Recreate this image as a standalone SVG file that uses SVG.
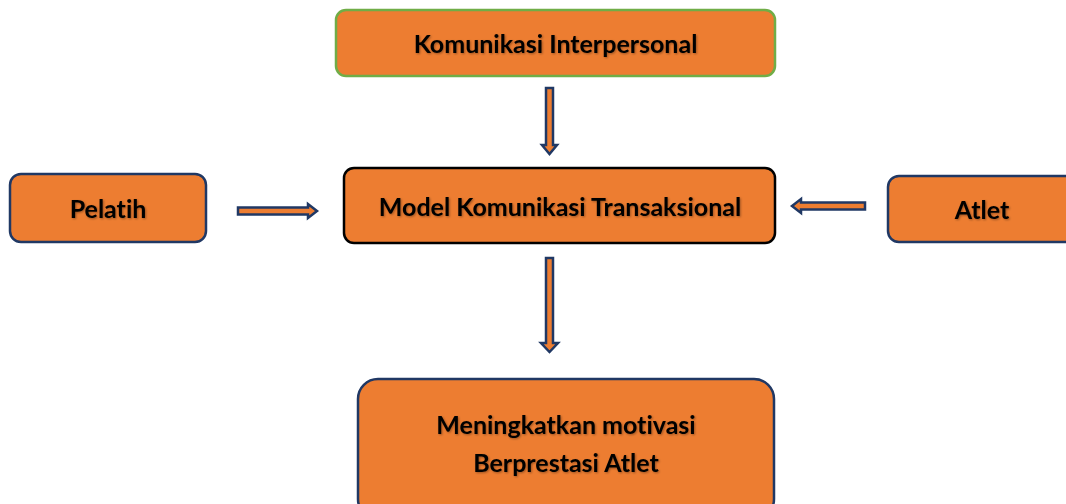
<svg xmlns="http://www.w3.org/2000/svg" width="1066" height="504" viewBox="0 0 1066 504">
<defs>
<filter id="sh" x="-10%" y="-30%" width="120%" height="160%">
<feDropShadow dx="1" dy="1" stdDeviation="0.8" flood-color="#000" flood-opacity="0.35"/>
</filter>
</defs>
<style>
.box{fill:#ed7d31;stroke-width:2.5}
.t{font-family:Lato,"Open Sans","Liberation Sans",sans-serif;font-weight:bold;font-size:25px;fill:#000;text-anchor:middle;filter:url(#sh);font-variant-ligatures:none}
.arr{fill:#ed7d31;stroke:#203864;stroke-width:2.5;stroke-linejoin:miter}
</style>
<rect width="1066" height="504" fill="#fff"/>
<g id="komunikasi-interpersonal">
<rect class="box" x="336" y="10" width="439" height="66" rx="10" stroke="#70ad47"/>
<text class="t" x="555.5" y="53">Komunikasi Interpersonal</text>
</g>
<g id="model-komunikasi">
<rect class="box" x="344" y="168" width="431" height="75" rx="10" stroke="#000"/>
<text class="t" x="560" y="216">Model Komunikasi Transaksional</text>
</g>
<g id="pelatih">
<rect class="box" x="10" y="174" width="196" height="68" rx="11" stroke="#203864"/>
<text class="t" x="108" y="218">Pelatih</text>
</g>
<g id="atlet">
<rect class="box" x="888" y="176" width="190" height="66" rx="11" stroke="#203864"/>
<text class="t" x="982" y="219">Atlet</text>
</g>
<g id="meningkatkan">
<rect class="box" x="358" y="379" width="416" height="140" rx="20" stroke="#203864"/>
<text class="t" x="566" y="434">Meningkatkan motivasi</text>
<text class="t" x="566" y="472">Berprestasi Atlet</text>
</g>
<g id="connectors">
<polygon class="arr" points="546,88 553,88 553,145 557,145 549.5,154 542,145 546,145"/>
<polygon class="arr" points="546,258 553,258 553,343 558,343 549.5,352 541,343 546,343"/>
<polygon class="arr" points="238,207.5 308,207.5 308,204 317,211 308,218 308,214.5 238,214.5"/>
<polygon class="arr" points="865,202.5 801,202.5 801,199 792,206 801,213 801,209.5 865,209.5"/>
</g>
</svg>
